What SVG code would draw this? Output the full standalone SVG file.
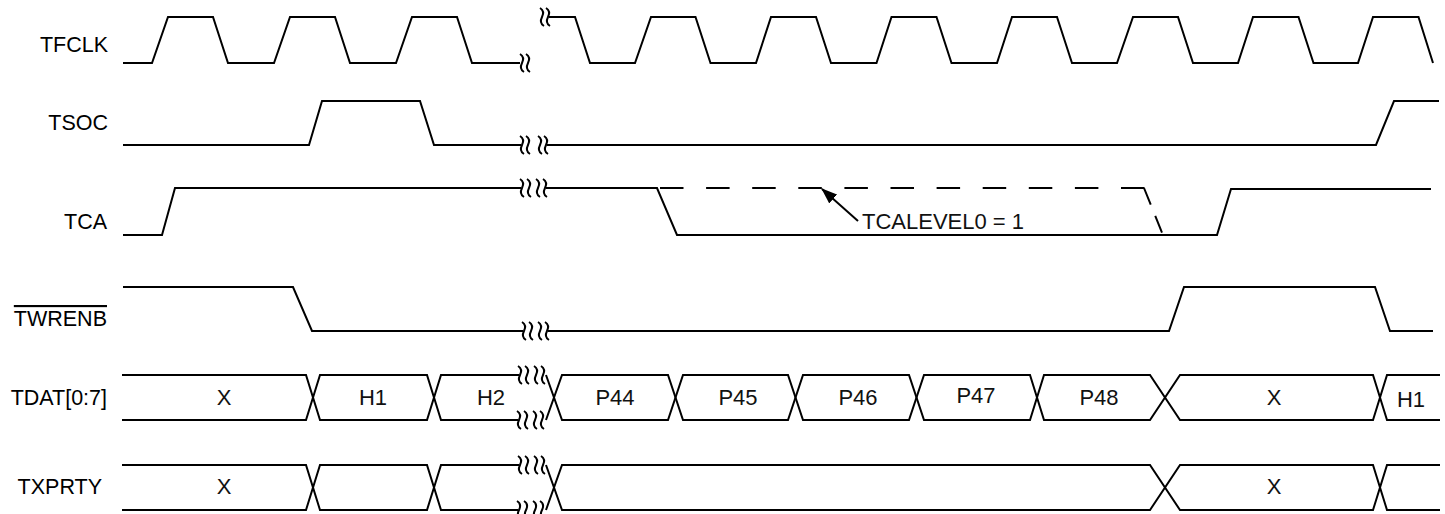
<svg xmlns="http://www.w3.org/2000/svg" width="1445" height="514" viewBox="0 0 1445 514">
<defs>
<style>
.w{fill:none;stroke:#000;stroke-width:2;stroke-linejoin:miter}
.d{fill:none;stroke:#000;stroke-width:2;stroke-dasharray:23.5 22.6}
.d2{fill:none;stroke:#000;stroke-width:2;stroke-dasharray:18 12}
.lbl{font-family:"Liberation Sans",Arial,sans-serif;font-size:21.5px;fill:#000;text-anchor:end}
.val{font-family:"Liberation Sans",Arial,sans-serif;font-size:22px;fill:#111;text-anchor:middle}
</style>
<path id="sq" d="M-2,-9 C3,-6 1,-2 0,0 C-1,2 -3,6 2,9" fill="none" stroke="#000" stroke-width="2"/>
<marker id="ah" markerUnits="userSpaceOnUse" viewBox="0 0 16 12" refX="15" refY="6" markerWidth="16" markerHeight="12" orient="auto">
<path d="M0,0 L16,6 L0,12 z" fill="#000"/>
</marker>
</defs>
<rect width="1445" height="514" fill="#fff"/>

<g id="tfclk">
<text class="lbl" x="108" y="52">TFCLK</text>
<path class="w" d="M123,63 H152 L168,17 H213 L228,63 H274 L290,17 H335 L350,63 H396 L412,17 H457 L472,63 H520"/>
<use href="#sq" x="522" y="63"/><use href="#sq" x="528" y="63"/>
<use href="#sq" x="542" y="17"/><use href="#sq" x="548" y="17"/>
<path class="w" d="M549,17 H575 L590,63 H635 L651,17 H695.5 L710.5,63 H756 L771,17 H816 L831,63 H876.5 L891.5,17 H936.5 L951.5,63 H997 L1012,17 H1057 L1072,63 H1117 L1133,17 H1178 L1193,63 H1238 L1253,17 H1298.5 L1313.5,63 H1358 L1373,17 H1418.5 L1433,63"/>
</g>

<g id="tsoc">
<text class="lbl" x="108" y="130">TSOC</text>
<path class="w" d="M123,145 H309 L322,101 H420 L434,145 H521"/>
<use href="#sq" x="522" y="145"/><use href="#sq" x="528" y="145"/>
<use href="#sq" x="540" y="145"/><use href="#sq" x="546" y="145"/>
<path class="w" d="M547,145 H1376 L1394,101 H1439"/>
</g>

<g id="tca">
<text class="lbl" x="107" y="229">TCA</text>
<path class="w" d="M123,235 H162 L175,188 H521"/>
<use href="#sq" x="522" y="188"/><use href="#sq" x="529" y="188"/>
<use href="#sq" x="538" y="188"/><use href="#sq" x="545" y="188"/>
<path class="w" d="M546,188 H657 L677,235 H1217 L1231,189 H1431"/>
<path class="d" d="M660,188 H1144.5"/>
<path class="d2" d="M1144,188 L1163,235"/>
</g>

<g id="twrenb">
<text class="lbl" x="107" y="326" text-decoration="overline">TWRENB</text>
<path class="w" d="M123,287 H293 L312,331 H523"/>
<use href="#sq" x="524" y="331"/><use href="#sq" x="531" y="331"/>
<use href="#sq" x="540" y="331"/><use href="#sq" x="547" y="331"/>
<path class="w" d="M548,331 H1169 L1184,287 H1375 L1390,331 H1433"/>
</g>

<g id="tdat">
<text class="lbl" x="107" y="405">TDAT[0:7]</text>
<path class="w" d="M122,375 H306 L320,420 H427 L441,375 H519"/>
<path class="w" d="M122,420 H306 L320,375 H427 L441,420 H518"/>
<use href="#sq" x="520" y="375"/><use href="#sq" x="527" y="375"/>
<use href="#sq" x="536" y="375"/><use href="#sq" x="543" y="375"/>
<use href="#sq" x="519" y="420"/><use href="#sq" x="526" y="420"/>
<use href="#sq" x="535" y="420"/><use href="#sq" x="542" y="420"/>
<path class="w" d="M546,375 L562,420 H668 L683,375 H788 L803,420 H909 L924,375 H1030 L1044,420 H1150 L1180,375 H1373 L1387,420 H1440"/>
<path class="w" d="M546,420 L562,375 H668 L683,420 H788 L803,375 H909 L924,420 H1030 L1044,375 H1150 L1180,420 H1373 L1387,375 H1440"/>
<text class="val" x="224" y="405">X</text>
<text class="val" x="373" y="405">H1</text>
<text class="val" x="491" y="405">H2</text>
<text class="val" x="615" y="405">P44</text>
<text class="val" x="738" y="405">P45</text>
<text class="val" x="858" y="405">P46</text>
<text class="val" x="976" y="403">P47</text>
<text class="val" x="1099" y="405">P48</text>
<text class="val" x="1274" y="405">X</text>
<text class="val" x="1411" y="407">H1</text>
</g>

<g id="txprty">
<text class="lbl" x="102" y="494">TXPRTY</text>
<path class="w" d="M122,465 H306 L320,510 H427 L441,465 H519"/>
<path class="w" d="M122,510 H306 L320,465 H427 L441,510 H518"/>
<use href="#sq" x="520" y="465"/><use href="#sq" x="527" y="465"/>
<use href="#sq" x="536" y="465"/><use href="#sq" x="543" y="465"/>
<use href="#sq" x="519" y="510"/><use href="#sq" x="526" y="510"/>
<use href="#sq" x="535" y="510"/><use href="#sq" x="542" y="510"/>
<path class="w" d="M546,465 L562,510 H1150 L1180,465 H1373 L1387,510 H1440"/>
<path class="w" d="M546,510 L562,465 H1150 L1180,510 H1373 L1387,465 H1440"/>
<text class="val" x="224" y="494">X</text>
<text class="val" x="1274" y="494">X</text>
</g>

<g id="connectors">
<line x1="858" y1="221" x2="822" y2="189" stroke="#000" stroke-width="2" marker-end="url(#ah)"/>
<text class="val" x="862" y="229" style="text-anchor:start">TCALEVEL0 = 1</text>
</g>
</svg>
